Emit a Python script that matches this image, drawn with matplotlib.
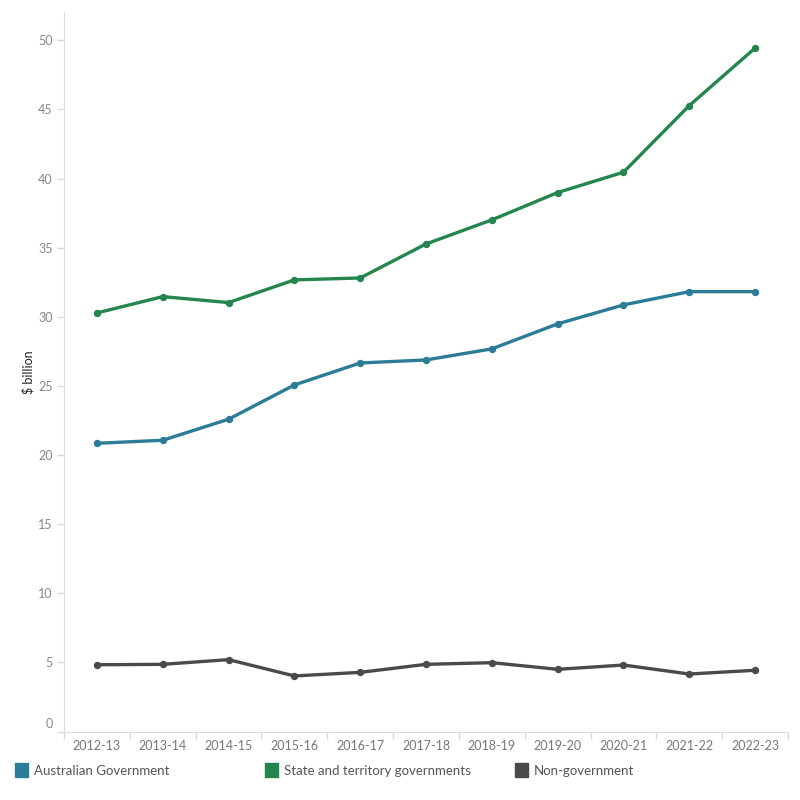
import matplotlib
matplotlib.use("Agg")
import matplotlib.pyplot as plt
import matplotlib.transforms as mtransforms
from matplotlib.patches import Rectangle

years = ["2012-13", "2013-14", "2014-15", "2015-16", "2016-17", "2017-18",
         "2018-19", "2019-20", "2020-21", "2021-22", "2022-23"]
australian_gov = [20.85, 21.07, 22.59, 25.07, 26.66, 26.88, 27.68, 29.49, 30.86, 31.82, 31.82]
state_territory = [30.28, 31.46, 31.03, 32.67, 32.81, 35.27, 37.01, 38.99, 40.46, 45.28, 49.44]
non_gov = [4.83, 4.86, 5.20, 4.02, 4.28, 4.86, 4.98, 4.50, 4.81, 4.16, 4.43]
series_names = ["Australian Government", "State and territory governments", "Non-government"]
yticks = [0, 5, 10, 15, 20, 25, 30, 35, 40, 45, 50]

colors = ["#2C7C98", "#24854E", "#4A4A4A"]

plt.rcParams['font.family'] = ['Lato', 'DejaVu Sans']

fig = plt.figure(figsize=(8, 8), dpi=100)
ax = fig.add_axes([0.08, 0.0856, 0.905, 0.8994])

x = list(range(len(years)))
for vals, c in zip([australian_gov, state_territory, non_gov], colors):
    ax.plot(x, vals, color=c, lw=2.4, marker='o', ms=4.3, solid_joinstyle='round')

ax.set_xlim(-0.5, len(years) - 0.5)
ax.set_ylim(0, 52.05)
ax.set_xticks(x)
ax.set_xticklabels(years)
ax.set_xticks([i - 0.5 for i in range(len(years) + 1)], minor=True)
ax.tick_params(axis='x', which='major', length=0, labelsize=9, labelcolor='#777777', pad=6)
ax.tick_params(axis='x', which='minor', length=5, color='#d9d9d9', width=1)
ax.set_yticks(yticks)
ax.set_yticklabels([str(v) for v in yticks])
ax.tick_params(axis='y', length=5, color='#d9d9d9', width=1, labelsize=9, labelcolor='#888888', pad=3)
# shift "0" label up like the reference
lbl0 = ax.get_yticklabels()[0]
lbl0.set_transform(lbl0.get_transform() + mtransforms.ScaledTranslation(0, 9/100, fig.dpi_scale_trans))

for s in ['top', 'right']:
    ax.spines[s].set_visible(False)
ax.spines['left'].set_color('#dddddd')
ax.spines['bottom'].set_color('#dddddd')

ax.set_ylabel("$ billion", fontsize=9, color='#222222', labelpad=3)

# legend
leg_x = [15, 265, 515]
for lx, name, c in zip(leg_x, series_names, colors):
    fig.patches.append(Rectangle((lx / 800, 1 - 777 / 800), 13 / 800, 14 / 800,
                                 transform=fig.transFigure, color=c))
    fig.text((lx + 19) / 800, 1 - 771 / 800, name, fontsize=9.5, color='#555555', va='center')

fig.savefig("out.png", dpi=100)
